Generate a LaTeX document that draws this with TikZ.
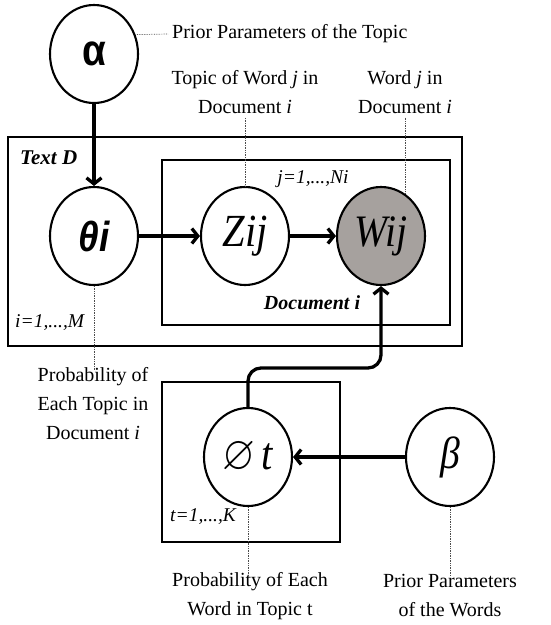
\documentclass[tikz,border=0pt]{standalone}
\usepackage{amssymb}
\usepackage{fontspec}
\setmainfont{Liberation Serif}
\newfontfamily\sansf{Liberation Sans}
\usetikzlibrary{arrows.meta,shapes.geometric}
\definecolor{wgray}{RGB}{166,161,158}
\newcommand{\sqz}[1]{\scalebox{0.88}[1]{#1}}
\tikzset{
  var/.style={ellipse, draw, line width=2.1pt, minimum width=88pt, minimum height=98pt, inner sep=0pt, fill=white},
  plate/.style={draw, line width=1.5pt},
  arr/.style={line width=3.3pt, -{Straight Barb[length=6pt,width=15pt]}},
  dline/.style={densely dotted, line width=0.7pt, black!70},
  lbl/.style={font=\fontsize{20}{29}\selectfont, align=center, inner sep=0pt},
  small/.style={font=\fontsize{19.5}{20}\selectfont\itshape, inner sep=0pt},
  smallb/.style={font=\fontsize{20}{21}\selectfont\bfseries\itshape, inner sep=0pt}
}
\begin{document}
\begin{tikzpicture}[x=1pt,y=-1pt]
\useasboundingbox (0,0) rectangle (550,625);
% plates
\draw[plate] (8,137) rectangle (462,346);
\draw[plate] (162,160) rectangle (450,325);
\draw[plate] (162,382) rectangle (340,542);
% variables
\node[var] (alpha) at (94,54) {\sqz{\fontsize{44}{44}\selectfont\sansf\bfseries α}};
\node[var] (theta) at (94,236) {\sqz{\fontsize{42}{42}\selectfont\sansf\bfseries\itshape θi}};
\node[var] (Z) at (245,236) {\sqz{\fontsize{46}{46}\selectfont\itshape Zij}};
\node[var, fill=wgray] (W) at (381,236) {\sqz{\fontsize{45}{45}\selectfont\itshape Wij}};
\node[var] (phi) at (248,457) {\sqz{\fontsize{48}{48}\selectfont$\varnothing$\fontsize{46}{46}\selectfont\,\textit{t}}};
\node[var] (beta) at (450,457) {\sqz{\fontsize{45}{45}\selectfont\itshape β}};
% plate labels
\node[smallb, anchor=west, font=\fontsize{21}{22}\selectfont\bfseries\itshape] (textD) at (20,158) {Text D};
\node[small] (jN) at (313,179) {j=1,...,Ni};
\node[smallb] (docI) at (312,303) {Document i};
\node[small, anchor=west] (iM) at (15,323) {i=1,...,M};
\node[small, anchor=west] (tK) at (170,517) {t=1,...,K};
% annotation labels
\node[lbl, anchor=west] (priorTopic) at (172,34) {Prior Parameters of the Topic};
\node[lbl] (topicLbl) at (245,92) {Topic of Word \textit{j} in\\Document \textit{i}};
\node[lbl] (wordLbl) at (405,92) {Word \textit{j} in\\Document \textit{i}};
\node[lbl] (probTopic) at (93,404) {Probability of\\Each Topic in\\Document \textit{i}};
\node[lbl] (probWord) at (250,596) {Probability of Each\\Word in Topic t};
\node[lbl] (priorWords) at (450,596) {Prior Parameters\\of the Words};
% dotted leaders
\draw[dline] (alpha.25) -- ([xshift=-4pt]priorTopic.west);
\draw[dline] (Z.north |- topicLbl.south) ++(0,4) -- (Z.north);
\draw[dline] (W.60 |- wordLbl.south) ++(0,4) -- (W.60);
\draw[dline] (theta.south) -- ([yshift=-3pt]theta.south |- probTopic.north);
\draw[dline] (phi.south) -- ([yshift=-3pt]phi.south |- probWord.north);
\draw[dline] (beta.south) -- ([yshift=-3pt]beta.south |- probWord.north);
% arrows
\coordinate (bend) at (381,368);
\draw[arr] (alpha.south) -- (theta.north);
\draw[arr] (theta.east) -- (Z.west);
\draw[arr] (Z.east) -- (W.west);
\draw[arr, rounded corners=13pt] (phi.north) |- (bend) -- (W.south);
\draw[arr] (beta.west) -- (phi.east);
\end{tikzpicture}
\end{document}
